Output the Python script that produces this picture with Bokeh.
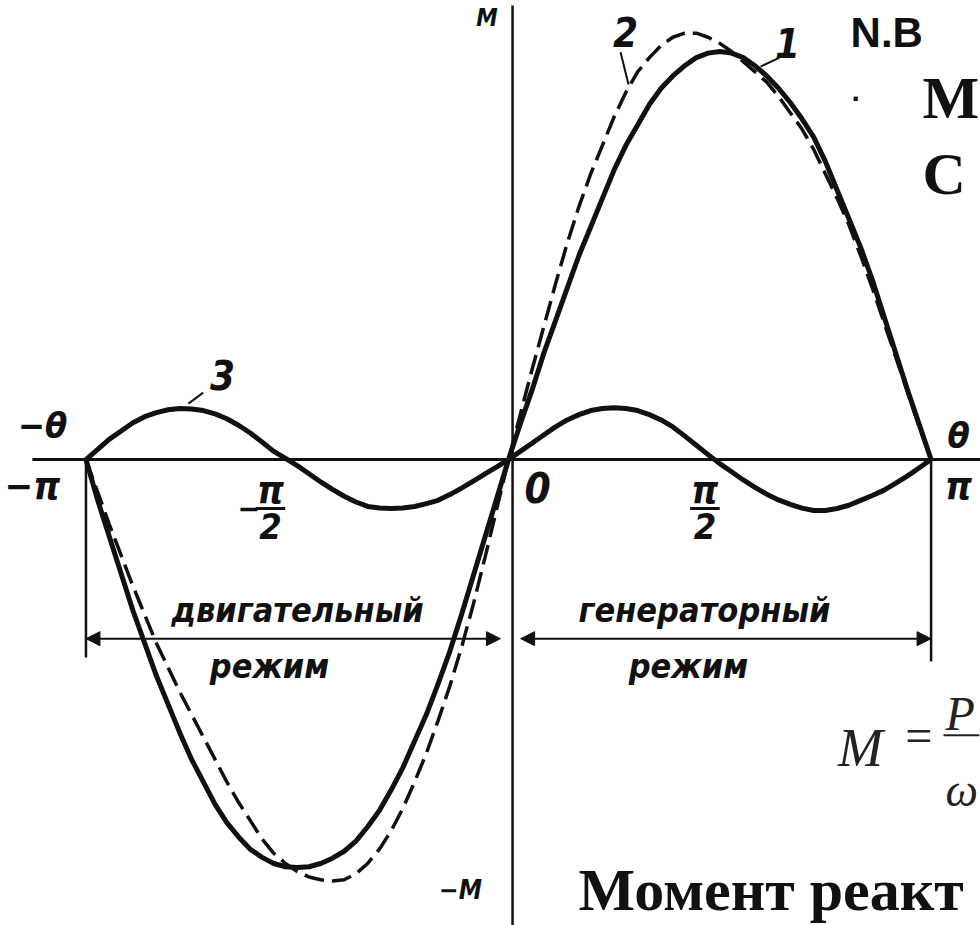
import numpy as np
from bokeh.plotting import figure
from bokeh.models import Range1d, Label, Arrow, NormalHead
from bokeh.embed import file_html
from bokeh.resources import INLINE

# Load angle theta, degrees (every 5 degrees from -180 to 180)
theta_deg = list(range(-180, 185, 5))

# 1 - main (excitation) component of the torque, relative units
torque_main = [0.00, -0.10, -0.19, -0.28, -0.37, -0.45, -0.53, -0.60, -0.67, -0.735,
               -0.79, -0.845, -0.89, -0.925, -0.955, -0.975, -0.99, -0.998, -1.00,
               -0.998, -0.99, -0.977, -0.96, -0.935, -0.90, -0.86, -0.81, -0.755,
               -0.69, -0.625, -0.55, -0.47, -0.38, -0.285, -0.19, -0.095,
               0.00, 0.087, 0.17, 0.26, 0.34, 0.42, 0.50, 0.57, 0.64, 0.71,
               0.77, 0.82, 0.87, 0.91, 0.94, 0.965, 0.985, 0.996, 1.00,
               0.996, 0.985, 0.965, 0.94, 0.91, 0.875, 0.835, 0.79, 0.73,
               0.66, 0.59, 0.52, 0.44, 0.35, 0.26, 0.17, 0.085, 0.00]

# 2 - resulting torque (dashed)
torque_total = [0.00, -0.08, -0.16, -0.235, -0.31, -0.38, -0.45, -0.51, -0.57, -0.625,
                -0.68, -0.735, -0.79, -0.84, -0.885, -0.93, -0.965, -0.99, -1.01,
                -1.023, -1.03, -1.033, -1.03, -1.015, -0.99, -0.955, -0.91, -0.855,
                -0.79, -0.72, -0.64, -0.555, -0.46, -0.355, -0.24, -0.12,
                0.00, 0.11, 0.22, 0.325, 0.43, 0.53, 0.62, 0.70, 0.77, 0.84,
                0.90, 0.95, 0.985, 1.015, 1.035, 1.045, 1.045, 1.035, 1.02,
                1.00, 0.975, 0.95, 0.925, 0.89, 0.85, 0.81, 0.76, 0.70,
                0.64, 0.575, 0.50, 0.42, 0.335, 0.25, 0.165, 0.08, 0.00]

# 3 - reluctance (reactive) torque
torque_reactive = [0.00, 0.025, 0.05, 0.07, 0.09, 0.105, 0.115, 0.122, 0.125, 0.124,
                   0.12, 0.112, 0.10, 0.084, 0.065, 0.043, 0.02, 0.003, -0.015,
                   -0.035, -0.055, -0.073, -0.09, -0.104, -0.115, -0.119, -0.12, -0.119,
                   -0.115, -0.108, -0.10, -0.086, -0.07, -0.053, -0.035, -0.018,
                   0.00, 0.02, 0.04, 0.06, 0.08, 0.097, 0.11, 0.12, 0.125, 0.127,
                   0.125, 0.12, 0.11, 0.097, 0.08, 0.058, 0.035, 0.012, -0.01,
                   -0.03, -0.05, -0.068, -0.085, -0.099, -0.11, -0.119, -0.125, -0.125,
                   -0.12, -0.112, -0.10, -0.088, -0.075, -0.058, -0.04, -0.02, 0.00]

theta = np.radians(theta_deg)
PI = np.pi

INK = "#111111"
HAND = "DejaVu Sans Condensed"
SERIF = "Liberation Serif"
SANS = "Liberation Sans"

p = figure(width=980, height=925,
           x_range=Range1d(-3.777, 3.509), y_range=Range1d(-1.142, 1.125),
           output_backend="svg", toolbar_location=None,
           x_axis_location=None, y_axis_location=None, min_border=0)
p.grid.visible = False
p.outline_line_color = None
p.background_fill_color = "white"
p.border_fill_color = "white"

# axes of the diagram
p.segment(x0=[-3.54], y0=[0], x1=[3.509], y1=[0], line_color=INK, line_width=3)
p.segment(x0=[0.03], y0=[1.113], x1=[0.03], y1=[-1.142], line_color=INK, line_width=2.5)

# torque-angle curves
p.line(theta, torque_main, line_color=INK, line_width=5, line_join="round")
p.line(theta, torque_total, line_color=INK, line_width=3.5, line_dash="20 8")
p.line(theta, torque_reactive, line_color=INK, line_width=5, line_join="round")

# region boundaries and dimension arrows
y_dim = -0.439
p.segment(x0=[-PI, PI], y0=[0, 0], x1=[-PI, PI], y1=[-0.485, -0.495],
          line_color=INK, line_width=2.5)
for xa, xb in [(-PI, -0.06), (0.09, PI)]:
    p.add_layout(Arrow(x_start=xa, y_start=y_dim, x_end=xb, y_end=y_dim,
                       line_color=INK, line_width=2,
                       start=NormalHead(size=14, fill_color=INK, line_color=INK),
                       end=NormalHead(size=14, fill_color=INK, line_color=INK)))

# curve number leaders
p.segment(x0=[-2.27, 0.833, 2.015], y0=[0.164, 0.998, 0.985],
          x1=[-2.38, 0.892, 1.874], y1=[0.137, 0.919, 0.963],
          line_color=INK, line_width=2)


def lab(x, y, text, size, font=HAND, style="bold italic", align="center",
        baseline="middle", color=INK):
    p.add_layout(Label(x=x, y=y, text=text, text_font=font,
                       text_font_size=f"{size}px", text_font_style=style,
                       text_align=align, text_baseline=baseline,
                       text_color=color))


lab(-0.16, 1.083, "M", 24)
lab(-0.357, -1.056, "−M", 26)
lab(-3.465, 0.083, "−θ", 36)
lab(-3.54, -0.064, "−π", 38)
lab(3.346, 0.059, "θ", 36)
lab(3.346, -0.064, "π", 38)
lab(0.216, -0.069, "0", 42)

# fractions −π/2 and π/2
lab(-1.77, -0.074, "π", 38)
lab(-1.77, -0.163, "2", 36)
lab(-1.93, -0.12, "−", 30)
lab(1.46, -0.074, "π", 38)
lab(1.46, -0.163, "2", 36)
p.segment(x0=[-1.88, 1.35], y0=[-0.12, -0.12], x1=[-1.66, 1.57], y1=[-0.12, -0.12],
          line_color=INK, line_width=3)

# curve numbers
lab(-2.126, 0.206, "3", 40)
lab(0.87, 1.047, "2", 40)
lab(2.074, 1.022, "1", 40)

# operating regions
lab(-1.569, -0.368, "двигательный", 34)
lab(-1.777, -0.507, "режим", 34)
lab(1.457, -0.368, "генераторный", 34)
lab(1.338, -0.507, "режим", 34)

# slide text around the diagram
lab(2.543, 1.047, "N.B", 42, font=SANS, style="bold", align="left", baseline="alphabetic")
lab(2.55, 0.904, ".", 30, font=SANS, style="bold", align="left", baseline="alphabetic")
lab(3.078, 0.885, "М", 60, font=SERIF, style="bold", align="left", baseline="alphabetic")
lab(3.078, 0.70, "С", 60, font=SERIF, style="bold", align="left", baseline="alphabetic")
lab(0.52, -1.056, "Момент реакт", 60, font=SERIF, style="bold", align="left",
    baseline="alphabetic")

# torque formula
lab(2.45, -0.708, "M", 54, font=SERIF, style="italic", align="left",
    baseline="alphabetic", color="#222222")
lab(3.05, -0.676, "=", 48, font=SERIF, style="normal", color="#222222")
lab(3.249, -0.623, "P", 48, font=SERIF, style="italic", align="left",
    baseline="alphabetic", color="#222222")
lab(3.249, -0.811, "ω", 46, font=SERIF, style="italic", align="left",
    baseline="alphabetic", color="#222222")
p.segment(x0=[3.234], y0=[-0.676], x1=[3.50], y1=[-0.676], line_color="#222222",
          line_width=2)

open("out.html", "w").write(file_html(p, INLINE))
